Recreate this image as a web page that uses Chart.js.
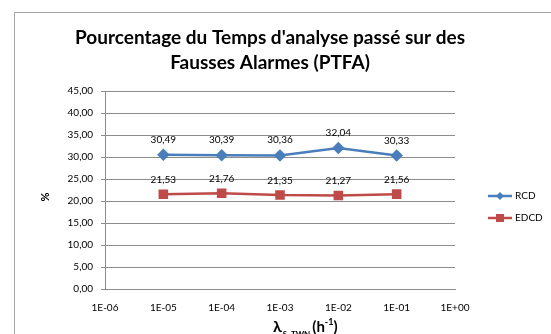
<!DOCTYPE html>
<html>
<head>
<meta charset="utf-8">
<script src="https://cdn.jsdelivr.net/npm/chart.js@4"></script>
<style>
  html, body { margin: 0; padding: 0; background: #fff; overflow: hidden; }
  #wrap { width: 551px; height: 334px; position: relative; }
</style>
</head>
<body>
<div id="wrap"><canvas id="chart1" width="551" height="334"></canvas></div>
<script>
// x categories (log scale of lambda), series values and y ticks
const categories = ['1E-06', '1E-05', '1E-04', '1E-03', '1E-02', '1E-01', '1E+00'];
const rcdValues = [null, 30.49, 30.39, 30.36, 32.04, 30.33, null];
const edcdValues = [null, 21.53, 21.76, 21.35, 21.27, 21.56, null];
const yTicks = [0, 5, 10, 15, 20, 25, 30, 35, 40, 45];

const blue = '#4A7EBB';
const red = '#BE4B48';
const gridGray = '#8C8C8C';
const font = "Lato, 'Open Sans', sans-serif";

const fmt = v => v.toFixed(2).replace('.', ',');

// frame, titles, value labels and legend drawn on the canvas
const extras = {
  id: 'extras',
  beforeDraw(chart) {
    const ctx = chart.ctx;
    ctx.save();
    ctx.fillStyle = '#fff';
    ctx.fillRect(0, 0, chart.width, chart.height);
    ctx.strokeStyle = '#A6A6A6';
    ctx.lineWidth = 1;
    ctx.strokeRect(14.5, 12.5, 700, 500);
    ctx.restore();
  },
  afterDraw(chart) {
    const ctx = chart.ctx;
    ctx.save();
    ctx.fillStyle = '#000';
    ctx.textAlign = 'center';
    ctx.textBaseline = 'alphabetic';

    // title
    ctx.font = 'bold 19px ' + font;
    ctx.fillText("Pourcentage du Temps d'analyse passé sur des", 270, 44);
    ctx.fillText('Fausses Alarmes (PTFA)', 270, 69);

    // value labels
    ctx.font = '10px ' + font;
    chart.data.datasets.forEach((ds, i) => {
      const meta = chart.getDatasetMeta(i);
      meta.data.forEach((pt, j) => {
        if (ds.data[j] == null) return;
        ctx.fillText(fmt(ds.data[j]), pt.x, pt.y - (i === 0 ? 12 : 11));
      });
    });

    // y title
    ctx.save();
    ctx.translate(45, 197);
    ctx.rotate(-Math.PI / 2);
    ctx.font = 'bold 11px ' + font;
    ctx.textBaseline = 'middle';
    ctx.fillText('%', 0, 0);
    ctx.restore();

    // x title
    ctx.textAlign = 'left';
    let x = 273;
    ctx.font = 'bold 16px ' + font;
    ctx.fillText('λ', x, 332);
    x += ctx.measureText('λ').width + 1;
    ctx.font = 'bold 8px ' + font;
    ctx.fillText('S_TWN', x, 337);
    x += ctx.measureText('S_TWN').width + 2;
    ctx.font = 'bold 15px ' + font;
    ctx.fillText('(h', x, 332);
    x += ctx.measureText('(h').width;
    ctx.font = 'bold 9px ' + font;
    ctx.fillText('-1', x, 325);
    x += ctx.measureText('-1').width;
    ctx.font = 'bold 15px ' + font;
    ctx.fillText(')', x, 332);

    // legend
    const items = [['RCD', blue, 'rectRot', 196], ['EDCD', red, 'rect', 218]];
    ctx.font = '10px ' + font;
    ctx.textBaseline = 'middle';
    items.forEach(([label, color, style, y]) => {
      ctx.strokeStyle = color;
      ctx.lineWidth = 2.5;
      ctx.beginPath();
      ctx.moveTo(488, y);
      ctx.lineTo(512, y);
      ctx.stroke();
      ctx.fillStyle = color;
      if (style === 'rect') {
        ctx.fillRect(496, y - 4, 8, 8);
      } else {
        ctx.beginPath();
        ctx.moveTo(500, y - 4);
        ctx.lineTo(504, y);
        ctx.lineTo(500, y + 4);
        ctx.lineTo(496, y);
        ctx.closePath();
        ctx.fill();
      }
      ctx.fillStyle = '#000';
      ctx.fillText(label, 515, y);
    });
    ctx.restore();
  }
};

const config = {
  type: 'line',
  data: {
    labels: categories,
    datasets: [{
      label: 'RCD',
      data: rcdValues,
      borderColor: blue,
      backgroundColor: blue,
      borderWidth: 2.5,
      pointStyle: 'rectRot',
      pointRadius: 4.5,
      pointHoverRadius: 4.5,
      tension: 0
    }, {
      label: 'EDCD',
      data: edcdValues,
      borderColor: red,
      backgroundColor: red,
      borderWidth: 2.5,
      pointStyle: 'rect',
      pointRadius: 5,
      pointHoverRadius: 5,
      tension: 0
    }]
  },
  options: {
    responsive: false,
    animation: false,
    layout: { padding: { left: 0, right: 96, top: 91, bottom: 0 } },
    plugins: {
      legend: { display: false },
      tooltip: { enabled: false }
    },
    scales: {
      x: {
        type: 'category',
        offset: false,
        grid: { display: false },
        border: { color: gridGray },
        ticks: { color: '#000', font: { family: font, size: 10 }, padding: 5, maxRotation: 0 },
        afterFit: s => { s.height = 45; }
      },
      y: {
        min: 0,
        max: 45,
        afterBuildTicks: s => { s.ticks = yTicks.map(v => ({ value: v })); },
        grid: { color: gridGray, tickLength: 4 },
        border: { color: gridGray },
        ticks: {
          color: '#000',
          font: { family: font, size: 10 },
          padding: 8,
          callback: v => fmt(v)
        },
        afterFit: s => { s.width = 105; }
      }
    }
  },
  plugins: [extras]
};

new Chart(document.getElementById('chart1'), config);
</script>
</body>
</html>
